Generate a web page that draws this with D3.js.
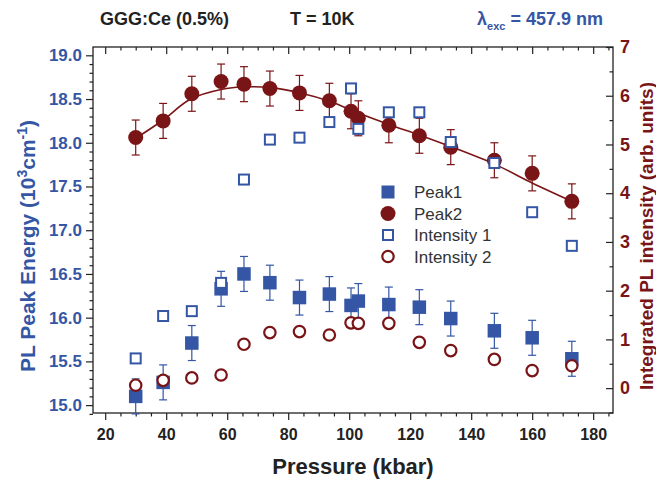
<!DOCTYPE html>
<html>
<head>
<meta charset="utf-8">
<script src="https://cdn.jsdelivr.net/npm/d3@7"></script>
<style>
  body { margin: 0; background: #fff; }
  svg text { font-family: "Liberation Sans", Arial, Helvetica, sans-serif; }
</style>
</head>
<body>
<div id="chart"></div>
<script>
// pressure in kbar
const pressure = [30, 39, 48.4, 58, 65.5, 74, 83.7, 93.5, 100.6, 103, 113, 123, 133.3, 147.6, 160, 173];
// PL peak energies (10^3 cm^-1), left axis
const peak1 = [15.10, 15.26, 15.71, 16.33, 16.50, 16.40, 16.23, 16.27, 16.14, 16.19, 16.15, 16.12, 15.99, 15.85, 15.77, 15.53];
const peak2 = [18.06, 18.25, 18.56, 18.70, 18.67, 18.62, 18.57, 18.48, 18.36, 18.28, 18.20, 18.08, 17.95, 17.80, 17.65, 17.33];
const peakErr = 0.2;
// integrated intensities (arb. units), right axis
const intensity1 = [0.61, 1.48, 1.58, 2.16, 4.28, 5.10, 5.14, 5.46, 6.15, 5.32, 5.66, 5.66, 5.05, 4.62, 3.61, 2.92];
const intensity2 = [0.06, 0.16, 0.21, 0.27, 0.90, 1.14, 1.16, 1.09, 1.34, 1.33, 1.33, 0.94, 0.77, 0.59, 0.36, 0.46];
// smooth guide line through Peak2
const fitP = [30, 39, 48, 58, 66, 74, 84, 94, 103, 113, 123, 133, 148, 160, 173];
const fitE = [18.05, 18.26, 18.50, 18.61, 18.64, 18.63, 18.57, 18.47, 18.34, 18.21, 18.09, 17.96, 17.75, 17.54, 17.33];

const xTicks = [20, 40, 60, 80, 100, 120, 140, 160, 180];
const yLeftTicks = [15.0, 15.5, 16.0, 16.5, 17.0, 17.5, 18.0, 18.5, 19.0];
const yRightTicks = [0, 1, 2, 3, 4, 5, 6, 7];
const legendLabels = ['Peak1', 'Peak2', 'Intensity 1', 'Intensity 2'];

const BLUE = '#3456a5';
const RED = '#7a1517';
const INK = '#222';

const width = 656;
const height = 479;
const margin = {top: 47, right: 43, bottom: 66, left: 93};
const innerW = width - margin.left - margin.right;
const innerH = height - margin.top - margin.bottom;

const svg = d3.select('#chart').append('svg')
    .attr('width', width)
    .attr('height', height);

const x = d3.scaleLinear().domain([16, 186.5]).range([margin.left, margin.left + innerW]);
const yL = d3.scaleLinear().domain([14.91, 19.095]).range([margin.top + innerH, margin.top]);
const yR = d3.scaleLinear().domain([-0.51, 7]).range([margin.top + innerH, margin.top]);

// minor tick values
const xMinor = d3.range(20, 186, 5).filter(v => v % 20 !== 0);
const yLMinor = d3.range(149, 191).map(v => v / 10).filter(v => Math.round(v * 10) % 5 !== 0);
const yRMinor = d3.range(-0.5, 7, 1);

function styleAxis(g) {
    g.selectAll('path').attr('stroke', INK).attr('stroke-width', 1.3);
    g.selectAll('line').attr('stroke', INK).attr('stroke-width', 1.2);
    g.selectAll('text').attr('font-weight', 'bold');
}

// bottom
svg.append('g')
    .attr('transform', `translate(0,${margin.top + innerH})`)
    .call(d3.axisBottom(x).tickValues(xMinor).tickSize(3.5).tickFormat(''))
    .call(g => g.select('.domain').remove())
    .call(styleAxis);
svg.append('g')
    .attr('transform', `translate(0,${margin.top + innerH})`)
    .call(d3.axisBottom(x).tickValues(xTicks).tickSize(7).tickPadding(9).tickFormat(d3.format('d')))
    .call(g => g.select('.domain').remove())
    .call(styleAxis)
    .call(g => g.selectAll('text').attr('font-size', 16).attr('fill', INK));

// top (ticks point inward)
svg.append('g')
    .attr('transform', `translate(0,${margin.top})`)
    .call(d3.axisTop(x).tickValues(xMinor).tickSize(-3.5).tickFormat(''))
    .call(g => g.select('.domain').remove())
    .call(styleAxis);
svg.append('g')
    .attr('transform', `translate(0,${margin.top})`)
    .call(d3.axisTop(x).tickValues(xTicks).tickSize(-7).tickFormat(''))
    .call(g => g.select('.domain').remove())
    .call(styleAxis);

// left
svg.append('g')
    .attr('transform', `translate(${margin.left},0)`)
    .call(d3.axisLeft(yL).tickValues(yLMinor).tickSize(3.5).tickFormat(''))
    .call(g => g.select('.domain').remove())
    .call(styleAxis);
svg.append('g')
    .attr('transform', `translate(${margin.left},0)`)
    .call(d3.axisLeft(yL).tickValues(yLeftTicks).tickSize(7).tickPadding(4).tickFormat(d3.format('.1f')))
    .call(g => g.select('.domain').remove())
    .call(styleAxis)
    .call(g => g.selectAll('text').attr('font-size', 17).attr('fill', BLUE));

// right (ticks point inward)
svg.append('g')
    .attr('transform', `translate(${margin.left + innerW},0)`)
    .call(d3.axisRight(yR).tickValues(yRMinor).tickSize(-3.5).tickFormat(''))
    .call(g => g.select('.domain').remove())
    .call(styleAxis);
svg.append('g')
    .attr('transform', `translate(${margin.left + innerW},0)`)
    .call(d3.axisRight(yR).tickValues(yRightTicks).tickSize(-7).tickPadding(7).tickFormat(d3.format('d')))
    .call(g => g.select('.domain').remove())
    .call(styleAxis)
    .call(g => g.selectAll('text').attr('font-size', 18).attr('fill', RED));

// frame
svg.append('rect')
    .attr('x', margin.left).attr('y', margin.top)
    .attr('width', innerW).attr('height', innerH)
    .attr('fill', 'none').attr('stroke', INK).attr('stroke-width', 1.3);

// axis titles
svg.append('text')
    .attr('transform', `translate(35,246) rotate(-90)`)
    .attr('text-anchor', 'middle')
    .attr('font-size', 21).attr('font-weight', 'bold').attr('fill', BLUE)
    .call(t => {
        t.append('tspan').text('PL Peak Energy (10');
        t.append('tspan').attr('font-size', 14).attr('dy', -8).text('3');
        t.append('tspan').attr('dy', 8).text('cm');
        t.append('tspan').attr('font-size', 14).attr('dy', -8).text('-1');
        t.append('tspan').attr('dy', 8).text(')');
    });

svg.append('text')
    .attr('transform', `translate(653,236) rotate(-90)`)
    .attr('text-anchor', 'middle')
    .attr('font-size', 19).attr('font-weight', 'bold').attr('fill', RED)
    .text('Integrated PL intensity (arb. units)');

svg.append('text')
    .attr('x', 353).attr('y', 474)
    .attr('text-anchor', 'middle')
    .attr('font-size', 22).attr('font-weight', 'bold').attr('fill', INK)
    .text('Pressure (kbar)');

// header
svg.append('text').attr('x', 100).attr('y', 25)
    .attr('font-size', 18).attr('font-weight', 'bold').attr('fill', INK)
    .text('GGG:Ce (0.5%)');
svg.append('text').attr('x', 290).attr('y', 25)
    .attr('font-size', 18).attr('font-weight', 'bold').attr('fill', INK)
    .text('T = 10K');
svg.append('text').attr('x', 603).attr('y', 25)
    .attr('text-anchor', 'end')
    .attr('font-size', 18).attr('font-weight', 'bold').attr('fill', BLUE)
    .call(t => {
        t.append('tspan').text('λ');
        t.append('tspan').attr('font-size', 11).attr('dy', 5).text('exc');
        t.append('tspan').attr('dy', -5).text(' = 457.9 nm');
    });

// data
const rows = pressure.map((p, i) => ({
    p, peak1: peak1[i], peak2: peak2[i], int1: intensity1[i], int2: intensity2[i]
}));

function errorBars(key, color) {
    const g = svg.append('g').attr('stroke', color).attr('stroke-width', 1.2);
    rows.forEach(d => {
        const cx = x(d.p);
        const y1 = yL(d[key] + peakErr);
        const y2 = yL(d[key] - peakErr);
        g.append('line').attr('x1', cx).attr('x2', cx).attr('y1', y1).attr('y2', y2);
        g.append('line').attr('x1', cx - 4).attr('x2', cx + 4).attr('y1', y1).attr('y2', y1);
        g.append('line').attr('x1', cx - 4).attr('x2', cx + 4).attr('y1', y2).attr('y2', y2);
    });
}

// Peak1
errorBars('peak1', BLUE);
svg.append('g').selectAll('rect').data(rows).join('rect')
    .attr('x', d => x(d.p) - 6.75).attr('y', d => yL(d.peak1) - 6.75)
    .attr('width', 13.5).attr('height', 13.5)
    .attr('fill', BLUE);

// Peak2 line + points
const line = d3.line()
    .x((d, i) => x(fitP[i]))
    .y(d => yL(d))
    .curve(d3.curveCatmullRom);
svg.append('path')
    .datum(fitE)
    .attr('d', line)
    .attr('fill', 'none').attr('stroke', RED).attr('stroke-width', 1.6);

errorBars('peak2', RED);
svg.append('g').selectAll('circle').data(rows).join('circle')
    .attr('cx', d => x(d.p)).attr('cy', d => yL(d.peak2))
    .attr('r', 7.5)
    .attr('fill', RED);

// Intensity 1
svg.append('g').selectAll('rect').data(rows).join('rect')
    .attr('x', d => x(d.p) - 5).attr('y', d => yR(d.int1) - 5)
    .attr('width', 10).attr('height', 10)
    .attr('fill', '#fff').attr('stroke', BLUE).attr('stroke-width', 2);

// Intensity 2
svg.append('g').selectAll('circle').data(rows).join('circle')
    .attr('cx', d => x(d.p)).attr('cy', d => yR(d.int2))
    .attr('r', 5.7)
    .attr('fill', '#fff').attr('stroke', RED).attr('stroke-width', 2.2);

// legend
const legend = svg.append('g').attr('transform', 'translate(388,192)');
legendLabels.forEach((label, i) => {
    const g = legend.append('g').attr('transform', `translate(0,${i * 21.5})`);
    if (i === 0) {
        g.append('rect').attr('x', -6.5).attr('y', -6.5).attr('width', 13).attr('height', 13).attr('fill', BLUE);
    } else if (i === 1) {
        g.append('circle').attr('r', 7.5).attr('fill', RED);
    } else if (i === 2) {
        g.append('rect').attr('x', -5).attr('y', -5).attr('width', 10).attr('height', 10)
            .attr('fill', '#fff').attr('stroke', BLUE).attr('stroke-width', 2);
    } else {
        g.append('circle').attr('r', 5.7).attr('fill', '#fff').attr('stroke', RED).attr('stroke-width', 2.2);
    }
    g.append('text').attr('x', 26).attr('y', 6)
        .attr('font-size', 17).attr('fill', '#333')
        .text(label);
});
</script>
</body>
</html>
